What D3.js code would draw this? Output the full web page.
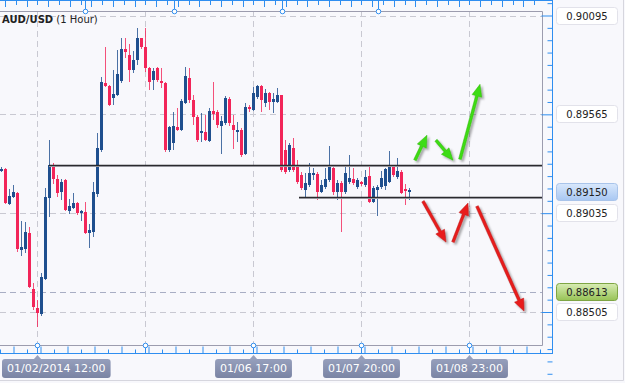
<!DOCTYPE html>
<html>
<head>
<meta charset="utf-8">
<script src="https://cdn.jsdelivr.net/npm/d3@7"></script>
<style>
body { margin: 0; background: #f8f8fc; }
svg { display: block; font-family: "DejaVu Sans", Verdana, sans-serif; }
</style>
</head>
<body>
<div id="chart"></div>
<script>
// hourly AUD/USD candles, index 9 = 01/02/2014 12:00
var opens = [0.89260,0.89271,0.89083,0.89121,0.89142,0.88837,0.88842,0.88928,0.88628,0.88526,
0.88494,0.88682,0.89115,0.89292,0.89217,0.89147,0.89212,0.89046,0.89062,0.89089,
0.89035,0.89040,0.88928,0.88933,0.89137,0.89372,0.89731,0.89715,0.89651,0.89667,
0.89742,0.89918,0.89881,0.89801,0.89854,0.89972,0.89924,0.89811,0.89747,0.89811,
0.89742,0.89731,0.89372,0.89410,0.89495,0.89479,0.89624,0.89758,0.89640,0.89549,
0.89463,0.89469,0.89420,0.89581,0.89576,0.89501,0.89517,0.89645,0.89506,0.89474,
0.89479,0.89351,0.89603,0.89586,0.89656,0.89715,0.89624,0.89678,0.89629,0.89629,
0.89667,0.89372,0.89265,0.89383,0.89292,0.89238,0.89158,0.89185,0.89238,0.89244,
0.89147,0.89174,0.89212,0.89276,0.89147,0.89196,0.89147,0.89201,0.89217,0.89174,
0.89201,0.89185,0.89233,0.89094,0.89158,0.89174,0.89180,0.89201,0.89281,0.89228,
0.89255,0.89164,0.89147];
var highs = [0.89281,0.89276,0.89164,0.89185,0.89147,0.88992,0.88987,0.88960,0.88660,0.88569,
0.88714,0.89169,0.89426,0.89303,0.89238,0.89217,0.89217,0.89110,0.89142,0.89094,
0.89051,0.89094,0.88976,0.89201,0.89463,0.89763,0.89924,0.89720,0.89801,0.89908,
0.89972,0.89972,0.89940,0.89902,0.90026,0.89977,0.90026,0.89817,0.89811,0.89817,
0.89811,0.89736,0.89501,0.89576,0.89597,0.89645,0.89817,0.89811,0.89667,0.89560,
0.89570,0.89560,0.89597,0.89736,0.89586,0.89554,0.89661,0.89656,0.89560,0.89522,
0.89490,0.89624,0.89613,0.89710,0.89720,0.89720,0.89699,0.89683,0.89678,0.89704,
0.89667,0.89426,0.89410,0.89437,0.89319,0.89255,0.89249,0.89303,0.89276,0.89255,
0.89212,0.89276,0.89394,0.89287,0.89212,0.89206,0.89287,0.89346,0.89276,0.89222,
0.89206,0.89265,0.89281,0.89180,0.89185,0.89260,0.89276,0.89367,0.89292,0.89329,
0.89265,0.89190,0.89169];
var lows = [0.89255,0.89083,0.89078,0.89115,0.88826,0.88805,0.88821,0.88634,0.88516,0.88425,
0.88483,0.88676,0.89014,0.89190,0.89121,0.89105,0.89046,0.89030,0.89056,0.89024,
0.88992,0.88923,0.88848,0.88907,0.89121,0.89362,0.89710,0.89608,0.89613,0.89661,
0.89731,0.89865,0.89736,0.89785,0.89827,0.89918,0.89790,0.89694,0.89694,0.89736,
0.89704,0.89362,0.89362,0.89372,0.89474,0.89474,0.89619,0.89624,0.89506,0.89415,
0.89415,0.89420,0.89415,0.89533,0.89490,0.89351,0.89506,0.89501,0.89378,0.89415,
0.89335,0.89346,0.89576,0.89581,0.89645,0.89576,0.89603,0.89586,0.89570,0.89624,
0.89255,0.89244,0.89255,0.89255,0.89190,0.89158,0.89121,0.89174,0.89212,0.89105,
0.89142,0.89164,0.89201,0.89131,0.89105,0.88933,0.89137,0.89190,0.89185,0.89164,
0.89180,0.89174,0.89089,0.89089,0.89019,0.89164,0.89158,0.89196,0.89228,0.89217,
0.89137,0.89078,0.89105];
var closes = [0.89271,0.89089,0.89126,0.89147,0.88842,0.88853,0.88933,0.88639,0.88532,0.88500,
0.88692,0.89121,0.89292,0.89217,0.89142,0.89201,0.89051,0.89072,0.89089,0.89035,
0.89046,0.88928,0.88944,0.89147,0.89383,0.89736,0.89715,0.89613,0.89672,0.89779,
0.89918,0.89897,0.89801,0.89854,0.89972,0.89924,0.89811,0.89736,0.89795,0.89747,
0.89731,0.89372,0.89495,0.89501,0.89479,0.89635,0.89769,0.89640,0.89549,0.89426,
0.89474,0.89426,0.89581,0.89565,0.89506,0.89528,0.89651,0.89517,0.89479,0.89479,
0.89346,0.89603,0.89592,0.89678,0.89715,0.89640,0.89678,0.89629,0.89645,0.89667,
0.89265,0.89255,0.89399,0.89265,0.89201,0.89169,0.89196,0.89249,0.89249,0.89147,
0.89185,0.89217,0.89281,0.89147,0.89196,0.89147,0.89249,0.89222,0.89196,0.89212,
0.89190,0.89228,0.89094,0.89169,0.89174,0.89222,0.89271,0.89281,0.89238,0.89260,
0.89142,0.89158,0.89158];

var priceLabels = [0.90095, 0.89565, 0.89035, 0.88505];
var lastPrice = 0.89150;
var alertPrice = 0.88613;
var dateIdx = [9, 36, 63, 90, 117];
var dateText = ["01/02/2014 12:00", "", "01/06 17:00", "01/07 20:00", "01/08 23:00"];
var topRulerIdx = [21, 43.25, 70.25, 94.25];

// resistance / support drawn on the chart
var levelPrice = [0.89292, 0.89121];
var levelStart = [12, 74.5];

// hand drawn scenario arrows: start index/price -> end index/price
var arrowX0 = [103.5, 108.75, 114.75, 105.5, 113, 119];
var arrowP0 = [0.89319, 0.89426, 0.89324, 0.89099, 0.88880, 0.89072];
var arrowX1 = [106.5, 113, 119.75, 111.25, 116.75, 130.75];
var arrowP1 = [0.89453, 0.89319, 0.89726, 0.88880, 0.89089, 0.88510];
var arrowCol = ["#3ddc12", "#3ddc12", "#3ddc12", "#e81c1c", "#e81c1c", "#e81c1c"];

var W = 625, H = 383;
var plotR = 542, plotT = 11, plotB = 345;

var svg = d3.select("#chart").append("svg")
    .attr("width", W)
    .attr("height", H);

var defs = svg.append("defs");
defs.append("filter").attr("id", "shadow")
    .attr("x", "-50%").attr("y", "-50%").attr("width", "200%").attr("height", "200%")
    .append("feDropShadow")
    .attr("dx", 2).attr("dy", 2).attr("stdDeviation", 1.3)
    .attr("flood-color", "#000").attr("flood-opacity", 0.35);

var gBlue = defs.append("linearGradient").attr("id", "gBlue").attr("x1", 0).attr("y1", 0).attr("x2", 0).attr("y2", 1);
gBlue.append("stop").attr("offset", "0%").attr("stop-color", "#d9e8fc");
gBlue.append("stop").attr("offset", "100%").attr("stop-color", "#a8c7f2");
var gGreen = defs.append("linearGradient").attr("id", "gGreen").attr("x1", 0).attr("y1", 0).attr("x2", 0).attr("y2", 1);
gGreen.append("stop").attr("offset", "0%").attr("stop-color", "#d8ecb4");
gGreen.append("stop").attr("offset", "100%").attr("stop-color", "#97c355");
var gTag = defs.append("linearGradient").attr("id", "gTag").attr("x1", 0).attr("y1", 0).attr("x2", 0).attr("y2", 1);
gTag.append("stop").attr("offset", "0%").attr("stop-color", "#969fbc");
gTag.append("stop").attr("offset", "100%").attr("stop-color", "#7a84a4");

var x = d3.scaleLinear().domain([0, 135]).range([1, 541]);
var y = d3.scaleLinear().domain([0.88505, 0.90095]).range([312, 15.5]);

// outer frame
svg.append("rect").attr("x", 0).attr("y", 0).attr("width", W).attr("height", H).attr("fill", "#f8f8fc");
svg.append("path").attr("d", "M0,380.5H623.5V0").attr("fill", "none").attr("stroke", "#d6d6de");

// grid
var grid = svg.append("g").attr("stroke", "#c9c9d2").attr("stroke-dasharray", "6,4");
grid.selectAll(".hg").data(priceLabels).enter().append("line")
    .attr("x1", 0).attr("x2", plotR)
    .attr("y1", function(d){ return Math.round(y(d)) + 0.5; })
    .attr("y2", function(d){ return Math.round(y(d)) + 0.5; });
grid.append("line")
    .attr("x1", 0).attr("x2", plotR)
    .attr("y1", Math.round(y(alertPrice)) + 0.5).attr("y2", Math.round(y(alertPrice)) + 0.5)
    .attr("stroke", "#a9aec4");
grid.selectAll(".vg").data(dateIdx).enter().append("line")
    .attr("x1", function(d){ return Math.round(x(d)) + 0.5; })
    .attr("x2", function(d){ return Math.round(x(d)) + 0.5; })
    .attr("y1", plotT).attr("y2", plotB);

// plot frame lines
svg.append("path").attr("d", "M0," + (plotT + 0.5) + "H" + (plotR + 0.5) + "V" + (plotB + 0.5) + "H0")
    .attr("fill", "none").attr("stroke", "#9c9cae");

// top ruler
var topRuler = svg.append("g");
topRuler.append("line").attr("x1", 0).attr("x2", 552).attr("y1", 0.5).attr("y2", 0.5).attr("stroke", "#2f8ef0");
topRuler.selectAll(".tt").data(d3.range(5, 541, 10.8)).enter().append("line")
    .attr("x1", function(d){ return Math.round(d) + 0.5; })
    .attr("x2", function(d){ return Math.round(d) + 0.5; })
    .attr("y1", 0).attr("y2", function(d, i){ return i % 2 ? 5 : 7; })
    .attr("stroke", "#2f8ef0");
topRuler.selectAll(".tc").data(topRulerIdx).enter().append("line")
    .attr("x1", function(d){ return Math.round(x(d)) + 0.5; })
    .attr("x2", function(d){ return Math.round(x(d)) + 0.5; })
    .attr("y1", 0).attr("y2", plotT).attr("stroke", "#2f8ef0");
topRuler.selectAll(".tcc").data(topRulerIdx).enter().append("circle")
    .attr("cx", function(d){ return Math.round(x(d)) + 0.5; })
    .attr("cy", plotT + 0.5).attr("r", 2.3)
    .attr("fill", "#fff").attr("stroke", "#2f8ef0");

// bottom ruler (d3 axis, ticks only)
var xTicks = d3.range(-0.25, 135, 27 / 8);
var bottomAxis = d3.axisTop(x).tickValues(xTicks).tickSize(5).tickFormat("");
var bAxis = svg.append("g").attr("transform", "translate(0,353.5)").call(bottomAxis);
bAxis.select(".domain").attr("d", "M0,0H552").attr("stroke", "#2f8ef0");
bAxis.selectAll(".tick line").attr("stroke", "#2f8ef0")
    .attr("y2", function(d, i){ return i % 2 ? -7 : -4; });
svg.append("line").attr("x1", 552.5).attr("x2", 552.5).attr("y1", 0).attr("y2", 354).attr("stroke", "#2f8ef0");

svg.selectAll(".bmaj").data(dateIdx).enter().append("line")
    .attr("x1", function(d){ return Math.round(x(d)) + 0.5; })
    .attr("x2", function(d){ return Math.round(x(d)) + 0.5; })
    .attr("y1", plotB).attr("y2", 354).attr("stroke", "#2f8ef0");
svg.selectAll(".bc").data(dateIdx).enter().append("circle")
    .attr("cx", function(d){ return Math.round(x(d)) + 0.5; })
    .attr("cy", plotB + 0.5).attr("r", 2.3)
    .attr("fill", "#fff").attr("stroke", "#2f8ef0");

// right ruler (d3 axis, ticks only)
var yStep = 0.0053 / 8;
var yTicks = d3.range(0.88505 - 5 * yStep, 0.90095 + 2 * yStep, yStep);
var rightAxis = d3.axisLeft(y).tickValues(yTicks).tickSize(5).tickFormat("");
var rAxis = svg.append("g").attr("transform", "translate(552.5,0)").call(rightAxis);
rAxis.select(".domain").remove();
rAxis.selectAll(".tick line").attr("stroke", "#2f8ef0")
    .attr("x2", function(d){
        var major = priceLabels.some(function(p){ return Math.abs(p - d) < 1e-6; });
        return major ? -11 : -5;
    });

// candles
var candles = svg.append("g").attr("shape-rendering", "crispEdges");
var idx = d3.range(opens.length);
function col(i) { return closes[i] >= opens[i] ? "#1f4f8e" : "#f22559"; }
candles.selectAll(".wick").data(idx).enter().append("rect")
    .attr("x", function(i){ return Math.round(x(i)); })
    .attr("width", 1)
    .attr("y", function(i){ return y(highs[i]); })
    .attr("height", function(i){ return Math.max(1, y(lows[i]) - y(highs[i])); })
    .attr("fill", col)
    .attr("opacity", 0.8);
candles.selectAll(".body").data(idx).enter().append("rect")
    .attr("x", function(i){ return Math.round(x(i)) - 1; })
    .attr("width", 3)
    .attr("y", function(i){ return y(Math.max(opens[i], closes[i])); })
    .attr("height", function(i){ return Math.max(1.5, Math.abs(y(opens[i]) - y(closes[i]))); })
    .attr("fill", col);

// resistance / support
var lv = svg.append("g");
lv.selectAll(".lvs").data(levelPrice).enter().append("line")
    .attr("x1", function(d, i){ return x(levelStart[i]); })
    .attr("x2", plotR)
    .attr("y1", function(d){ return Math.round(y(d)) + 1.5; })
    .attr("y2", function(d){ return Math.round(y(d)) + 1.5; })
    .attr("stroke", "#b8b8c0").attr("stroke-width", 1);
lv.selectAll(".lvl").data(levelPrice).enter().append("line")
    .attr("x1", function(d, i){ return x(levelStart[i]); })
    .attr("x2", plotR)
    .attr("y1", function(d){ return Math.round(y(d)) + 0.5; })
    .attr("y2", function(d){ return Math.round(y(d)) + 0.5; })
    .attr("stroke", "#2a2a2e").attr("stroke-width", 1.3);

// arrows
var arrows = svg.append("g").attr("filter", "url(#shadow)");
arrowX0.forEach(function(d, i) {
    var ax = x(arrowX0[i]), ay = y(arrowP0[i]);
    var bx = x(arrowX1[i]), by = y(arrowP1[i]);
    var len = Math.sqrt((bx - ax) * (bx - ax) + (by - ay) * (by - ay));
    var ux = (bx - ax) / len, uy = (by - ay) / len;
    var hl = 12, hw = 5, sw = 1.4;
    var mx = bx - ux * hl, my = by - uy * hl;
    var pts = [
        [ax - uy * sw, ay + ux * sw],
        [mx - uy * sw, my + ux * sw],
        [mx - uy * hw, my + ux * hw],
        [bx, by],
        [mx + uy * hw, my - ux * hw],
        [mx + uy * sw, my - ux * sw],
        [ax + uy * sw, ay - ux * sw]
    ];
    arrows.append("path")
        .attr("d", "M" + pts.map(function(p){ return p[0].toFixed(1) + "," + p[1].toFixed(1); }).join("L") + "Z")
        .attr("fill", arrowCol[i])
        .attr("stroke", d3.color(arrowCol[i]).darker(0.6))
        .attr("stroke-width", 0.5);
});

// title
var title = svg.append("text").attr("x", 2).attr("y", 23).attr("font-size", 10).attr("fill", "#222");
title.append("tspan").attr("font-weight", "bold").text("AUD/USD");
title.append("tspan").text(" (1 Hour)");

// right price tags
function priceTag(p, fill, stroke) {
    var cy = Math.round(y(p));
    svg.append("rect")
        .attr("x", 556.5).attr("y", cy - 8.5).attr("width", 61).attr("height", 17).attr("rx", 3)
        .attr("fill", fill).attr("stroke", stroke);
    svg.append("text")
        .attr("x", 587).attr("y", cy + 4)
        .attr("text-anchor", "middle").attr("font-size", 10).attr("fill", "#222")
        .text(p.toFixed(5));
}
priceLabels.forEach(function(p){ priceTag(p, "#fff", "#e2e2ea"); });
priceTag(lastPrice, "url(#gBlue)", "#a9c4ea");
priceTag(alertPrice, "url(#gGreen)", "#7ea544");

// bottom date tags
dateIdx.forEach(function(d, i) {
    if (!dateText[i]) return;
    var cx = Math.round(x(d)) + 0.5;
    var g = svg.append("g");
    var rect = g.append("rect");
    var tip = g.append("path");
    var t = g.append("text")
        .attr("y", 372).attr("font-size", 11).attr("fill", "#fff")
        .attr("text-anchor", "middle").text(dateText[i]);
    var w = t.node().getComputedTextLength() + 10;
    var left = Math.max(2, cx - w / 2);
    t.attr("x", left + w / 2);
    tip.attr("d", "M" + (cx - 4) + ",359.5 L" + cx + ",355 L" + (cx + 4) + ",359.5 Z")
        .attr("fill", "#969fbc");
    rect.attr("x", left).attr("y", 359).attr("width", w).attr("height", 19).attr("rx", 3)
        .attr("fill", "url(#gTag)");
});
</script>
</body>
</html>
